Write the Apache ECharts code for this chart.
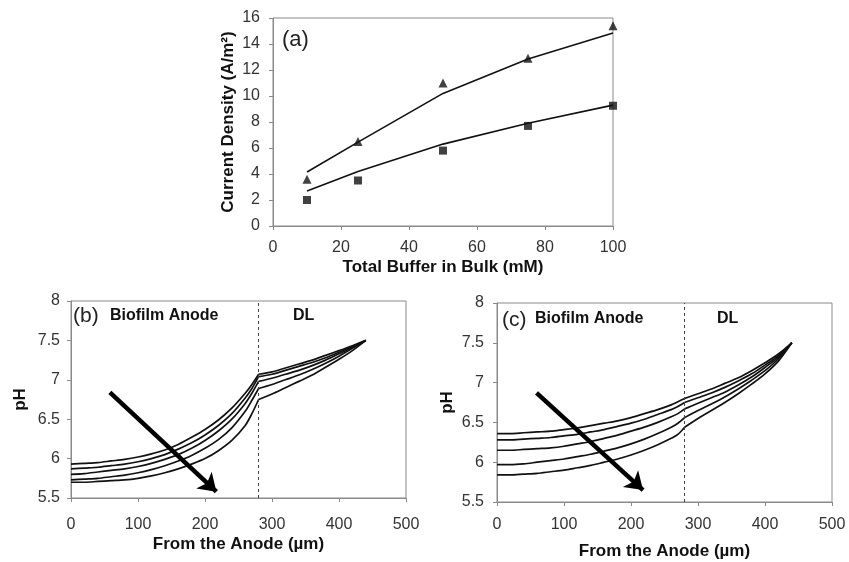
<!DOCTYPE html>
<html>
<head>
<meta charset="utf-8">
<script src="https://cdn.jsdelivr.net/npm/echarts@6/dist/echarts.min.js"></script>
<style>
  html, body { margin: 0; padding: 0; background: #fff; }
  #chart { width: 849px; height: 562px; }
</style>
</head>
<body>
<div id="chart"></div>
<script>
// (a) current density against bulk buffer concentration
const bufferMM = [10, 25, 50, 75, 100];
const triangleMeasured = [3.6, 6.5, 11.0, 12.9, 15.4];
const squareMeasured = [2.0, 3.5, 5.8, 7.7, 9.25];
const triangleModel = [4.15, 6.45, 10.2, 12.85, 14.85];
const squareModel = [2.7, 4.2, 6.3, 7.9, 9.3];

// (b) and (c) pH profiles through biofilm anode (0-280 um) and diffusion layer
const distanceUm = [0, 20, 40, 60, 80, 100, 120, 140, 160, 180, 200, 220, 240, 260, 270, 280,
                    300, 320, 340, 360, 380, 400, 420, 440];
const pHProfilesB = [
  [5.93, 5.94, 5.95, 5.97, 5.99, 6.02, 6.06, 6.11, 6.18, 6.27, 6.37, 6.49, 6.64, 6.83, 6.94, 7.07,
   7.10, 7.15, 7.20, 7.25, 7.31, 7.37, 7.43, 7.50],
  [5.87, 5.88, 5.89, 5.91, 5.93, 5.96, 6.00, 6.05, 6.12, 6.20, 6.30, 6.42, 6.57, 6.77, 6.89, 7.04,
   7.07, 7.12, 7.17, 7.22, 7.28, 7.35, 7.42, 7.50],
  [5.80, 5.81, 5.83, 5.85, 5.87, 5.90, 5.94, 5.99, 6.05, 6.13, 6.23, 6.35, 6.50, 6.70, 6.83, 6.98,
   7.02, 7.07, 7.12, 7.18, 7.25, 7.33, 7.41, 7.50],
  [5.73, 5.74, 5.75, 5.77, 5.79, 5.82, 5.86, 5.91, 5.97, 6.04, 6.13, 6.24, 6.39, 6.60, 6.74, 6.89,
   6.94, 7.00, 7.06, 7.13, 7.21, 7.30, 7.40, 7.50],
  [5.70, 5.70, 5.71, 5.72, 5.73, 5.75, 5.78, 5.82, 5.87, 5.93, 6.00, 6.10, 6.23, 6.42, 6.57, 6.75,
   6.82, 6.90, 6.98, 7.06, 7.16, 7.26, 7.37, 7.50]
];
const pHProfilesC = [
  [6.36, 6.36, 6.37, 6.38, 6.39, 6.41, 6.43, 6.46, 6.49, 6.52, 6.56, 6.61, 6.66, 6.72, 6.76, 6.80,
   6.86, 6.92, 6.99, 7.06, 7.15, 7.25, 7.36, 7.50],
  [6.28, 6.28, 6.29, 6.30, 6.31, 6.33, 6.35, 6.38, 6.41, 6.45, 6.49, 6.54, 6.60, 6.66, 6.70, 6.75,
   6.81, 6.87, 6.94, 7.02, 7.11, 7.22, 7.34, 7.50],
  [6.15, 6.15, 6.16, 6.17, 6.18, 6.20, 6.23, 6.26, 6.30, 6.34, 6.39, 6.44, 6.50, 6.57, 6.61, 6.67,
   6.74, 6.81, 6.88, 6.97, 7.07, 7.19, 7.32, 7.50],
  [5.97, 5.97, 5.98, 6.00, 6.02, 6.04, 6.07, 6.10, 6.14, 6.18, 6.23, 6.29, 6.36, 6.44, 6.49, 6.56,
   6.65, 6.73, 6.82, 6.92, 7.03, 7.15, 7.30, 7.50],
  [5.84, 5.84, 5.85, 5.86, 5.88, 5.90, 5.93, 5.96, 6.00, 6.04, 6.09, 6.15, 6.22, 6.30, 6.35, 6.44,
   6.55, 6.65, 6.75, 6.86, 6.98, 7.11, 7.27, 7.50]
];
const dlBoundaryUm = 280;
const arrowB = [[58, 6.84], [217, 5.58]];
const arrowC = [[59, 6.87], [218, 5.65]];

const FONT = '"Liberation Sans", Arial, sans-serif';
const INK = '#111';
const FRAME = '#8a8a8a';

function pairs(xs, ys) { return xs.map((x, i) => [x, ys[i]]); }

function valueAxis(gridIndex, min, max, interval, labelMargin, name, nameGap, isY) {
  return {
    type: 'value', gridIndex, min, max, interval,
    name, nameLocation: 'middle', nameGap,
    nameRotate: isY ? 90 : 0,
    nameTextStyle: { fontFamily: FONT, fontWeight: 'bold', fontSize: 17, color: INK },
    axisLine: { show: true, lineStyle: { color: FRAME, width: 1 } },
    axisTick: { show: true, length: 4, lineStyle: { color: FRAME } },
    axisLabel: { fontFamily: FONT, fontSize: 16, color: '#333', margin: labelMargin },
    splitLine: { show: false }
  };
}

// Each profile is drawn as two smoothed pieces that meet at the
// biofilm / diffusion-layer boundary, so the kink there stays sharp.
function profileSeries(profiles, gridIdx) {
  const out = [];
  profiles.forEach(p => {
    const pts = pairs(distanceUm, p);
    const cut = distanceUm.indexOf(dlBoundaryUm);
    [pts.slice(0, cut + 1), pts.slice(cut)].forEach(piece => {
      out.push({
        type: 'line', xAxisIndex: gridIdx, yAxisIndex: gridIdx,
        data: piece, smooth: 0.3,
        symbol: 'none', silent: true,
        lineStyle: { color: INK, width: 1.7, join: 'round' }
      });
    });
  });
  return out;
}

// dotted boundary line and the trend arrow
function guideSeries(gridIdx, arrow) {
  return {
    type: 'line', xAxisIndex: gridIdx, yAxisIndex: gridIdx, data: [],
    silent: true,
    markLine: {
      silent: true, animation: false,
      symbol: ['none', 'none'],
      label: { show: false },
      data: [
        {
          xAxis: dlBoundaryUm, symbol: 'none',
          lineStyle: { color: '#444', width: 1, type: [3, 3] }
        },
        [
          { coord: arrow[0], symbol: 'none', lineStyle: { color: '#000', width: 4.5, type: 'solid' } },
          { coord: arrow[1], symbol: 'arrow', symbolSize: 17 }
        ]
      ]
    }
  };
}

const chart = echarts.init(document.getElementById('chart'), null, { renderer: 'canvas' });

chart.setOption({
  animation: false,
  backgroundColor: '#fff',
  grid: [
    { left: 273, top: 18, width: 340, height: 208, show: true, borderColor: FRAME, borderWidth: 1 },
    { left: 71, top: 301, width: 335, height: 197, show: true, borderColor: FRAME, borderWidth: 1 },
    { left: 497, top: 303, width: 335, height: 199, show: true, borderColor: FRAME, borderWidth: 1 }
  ],
  xAxis: [
    valueAxis(0, 0, 100, 20, 14, 'Total Buffer in Bulk (mM)', 33, false),
    valueAxis(1, 0, 500, 100, 19, 'From the Anode (\u00b5m)', 38, false),
    valueAxis(2, 0, 500, 100, 15, 'From the Anode (\u00b5m)', 41, false)
  ],
  yAxis: [
    valueAxis(0, 0, 16, 2, 13, 'Current Density (A/m\u00b2)', 36, true),
    valueAxis(1, 5.5, 8, 0.5, 11, 'pH', 42, true),
    valueAxis(2, 5.5, 8, 0.5, 13, 'pH', 41, true)
  ],
  series: [
    {
      type: 'line', xAxisIndex: 0, yAxisIndex: 0, data: pairs(bufferMM, triangleModel),
      symbol: 'none', silent: true, lineStyle: { color: INK, width: 1.6 }
    },
    {
      type: 'line', xAxisIndex: 0, yAxisIndex: 0, data: pairs(bufferMM, squareModel),
      symbol: 'none', silent: true, lineStyle: { color: INK, width: 1.6 }
    },
    {
      type: 'scatter', xAxisIndex: 0, yAxisIndex: 0, data: pairs(bufferMM, triangleMeasured),
      symbol: 'triangle', symbolSize: 9, itemStyle: { color: INK }, silent: true
    },
    {
      type: 'scatter', xAxisIndex: 0, yAxisIndex: 0, data: pairs(bufferMM, squareMeasured),
      symbol: 'rect', symbolSize: 8, itemStyle: { color: INK }, silent: true
    },
    ...profileSeries(pHProfilesB, 1),
    guideSeries(1, arrowB),
    ...profileSeries(pHProfilesC, 2),
    guideSeries(2, arrowC)
  ],
  graphic: [
    { type: 'text', left: 282, top: 29, style: { text: '(a)', font: '22px ' + FONT, fill: '#222' } },
    { type: 'text', left: 73, top: 306, style: { text: '(b)', font: '21px ' + FONT, fill: '#222' } },
    { type: 'text', left: 110, top: 308, style: { text: 'Biofilm Anode', font: 'bold 16px ' + FONT, fill: INK } },
    { type: 'text', left: 293, top: 308, style: { text: 'DL', font: 'bold 16px ' + FONT, fill: INK } },
    { type: 'text', left: 502, top: 310, style: { text: '(c)', font: '21px ' + FONT, fill: '#222' } },
    { type: 'text', left: 535, top: 311, style: { text: 'Biofilm Anode', font: 'bold 16px ' + FONT, fill: INK } },
    { type: 'text', left: 717, top: 311, style: { text: 'DL', font: 'bold 16px ' + FONT, fill: INK } }
  ]
});
</script>
</body>
</html>
